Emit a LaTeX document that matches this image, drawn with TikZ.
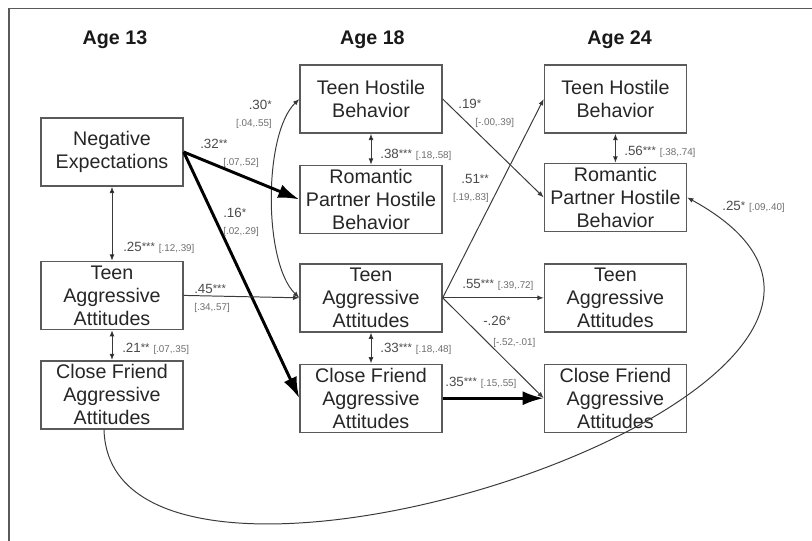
\documentclass[tikz,border=0pt]{standalone}
\usepackage{fontspec}
\setmainfont{Liberation Sans}
\usetikzlibrary{arrows.meta,positioning}

\definecolor{boxgray}{HTML}{5A5A5A}
\definecolor{linegray}{HTML}{3A3A3A}
\definecolor{numgray}{HTML}{4A4A4A}
\definecolor{cigray}{HTML}{6E6E6E}
\newcommand{\est}[2]{{\fontsize{9.5}{11}\selectfont\color{numgray}#1\raisebox{0.6pt}{\fontsize{8}{8}\selectfont#2}}}
\newcommand{\ci}[1]{{\fontsize{7}{8}\selectfont\color{cigray}[#1]}}

\begin{document}
\begin{tikzpicture}[>={Latex[length=4.5pt,width=3.5pt]}, node distance=0.75cm,
    var/.style={draw=boxgray, line width=1pt, minimum width=3.55cm, minimum height=1.7cm,
                align=center, inner sep=1pt, text=black!85, font=\fontsize{14}{16.3}\selectfont},
    age/.style={font=\fontsize{14}{16}\selectfont\bfseries, text=black!90},
    lbl/.style={inner sep=0pt, align=left},
    link/.style={draw=linegray, line width=0.7pt, ->},
    both/.style={draw=linegray, line width=0.7pt, <->},
    strong/.style={draw=black, line width=2.1pt, -{Latex[length=15pt,width=10pt]}}]
    \useasboundingbox (0,0) rectangle (20.3,-13.5);
    \draw[boxgray, line width=0.8pt] (0.225,-13.6) -- (0.225,-0.21) -- (20.4,-0.21);

    % Headings
    \node [age] (t13) at (2.875,-1.0)  {Age 13};
    \node [age] (t18) at (9.31,-1.0)   {Age 18};
    \node [age] (t24) at (15.49,-1.0)  {Age 24};

    % Nodes {age 13, age 18, age 24}
    \node [var] (neg13) at (2.8,-3.8)              {Negative\\Expectations};
    \node [var] (agg13) [below=1.85cm of neg13]     {Teen\\Aggressive\\Attitudes};
    \node [var] (cf13)  [below=0.75cm of agg13]     {Close Friend\\Aggressive\\Attitudes};

    \node [var] (hos18) at (9.275,-2.475)          {Teen Hostile\\Behavior};
    \node [var] (rom18) [below=0.775cm of hos18]    {Romantic\\Partner Hostile\\Behavior};
    \node [var] (agg18) [below=0.725cm of rom18]    {Teen\\Aggressive\\Attitudes};
    \node [var] (cf18)  [below=0.775cm of agg18]    {Close Friend\\Aggressive\\Attitudes};

    \node [var] (hos24) [right=2.525cm of hos18]    {Teen Hostile\\Behavior};
    \node [var] (rom24) [below=0.725cm of hos24]    {Romantic\\Partner Hostile\\Behavior};
    \node [var] (agg24) [right=2.525cm of agg18]    {Teen\\Aggressive\\Attitudes};
    \node [var] (cf24)  [right=2.525cm of cf18]     {Close Friend\\Aggressive\\Attitudes};

    % Paths
    \path [both]   (neg13) edge (agg13);
    \path [both]   (agg13) edge (cf13);
    \path [both]   (hos18) edge (rom18);
    \path [both]   (agg18) edge (cf18);
    \path [both]   (hos24) edge (rom24);
    \draw [both]   (agg18.west) .. controls +(-0.9,0.875) and +(-0.9,-0.875) .. (hos18.west);

    \draw [strong] (neg13.east) -- (rom18.west);
    \draw [strong] (neg13.east) -- (cf18.west);
    \draw [strong] (cf18.east)  -- (cf24.west);

    \draw [link]   (agg13.east) -- (agg18.west);
    \draw [link]   (hos18.east) -- (rom24.west);
    \draw [link]   (agg18.east) -- (hos24.west);
    \draw [link]   (agg18.east) -- (agg24.west);
    \draw [link]   (agg18.east) -- (cf24.west);
    \draw [link]   ([xshift=-0.2cm]cf13.south) .. controls +(0.15,-6.175) and +(8.375,-4.6) .. (rom24.east);

    % Estimates
    \node [lbl, anchor=east, align=right] (e30) at (6.8,-2.85)  {\est{.30}{*}\\\ci{.04,.55}};
    \node [lbl, anchor=north west] (e32) at (5.0,-3.475)  {\est{.32}{**}\\\hspace*{0.575cm}\ci{.07,.52}};
    \node [lbl, anchor=north west] (e16) at (5.575,-5.2)  {\est{.16}{*}\\\ci{.02,.29}};
    \node [lbl, anchor=north west] (e45) at (4.85,-7.1)   {\est{.45}{***}\\\ci{.34,.57}};
    \node [lbl, anchor=north west] (e19) at (11.45,-2.475) {\est{.19}{*}\\\hspace*{0.425cm}\ci{-.00,.39}};
    \node [lbl, anchor=north east, align=right] (e51) at (12.225,-4.35) {\est{.51}{**}\\\ci{.19,.83}};
    \node [lbl, anchor=west] (e55) at (11.55,-7.125)  {\est{.55}{***} \ci{.39,.72}};
    \node [lbl, anchor=north west] (e26) at (12.075,-7.9) {\est{-.26}{*}\\[2pt]\hspace*{0.25cm}\ci{-.52,-.01}};
    \node [lbl, anchor=west] (e35) at (11.125,-9.575) {\est{.35}{***} \ci{.15,.55}};
    \node [lbl, anchor=west] (e25b) at (18.05,-5.175) {\est{.25}{*} \ci{.09,.40}};
    \node [lbl, anchor=west] (e25) at (3.075,-6.2)    {\est{.25}{***} \ci{.12,.39}};
    \node [lbl, anchor=west] (e21) at (3.05,-8.725)   {\est{.21}{**} \ci{.07,.35}};
    \node [lbl, anchor=west] (e38) at (9.5,-3.875)    {\est{.38}{***} \ci{.18,.58}};
    \node [lbl, anchor=west] (e33) at (9.5,-8.725)    {\est{.33}{***} \ci{.18,.48}};
    \node [lbl, anchor=west] (e56) at (15.6,-3.8)     {\est{.56}{***} \ci{.38,.74}};

\end{tikzpicture}
\end{document}
